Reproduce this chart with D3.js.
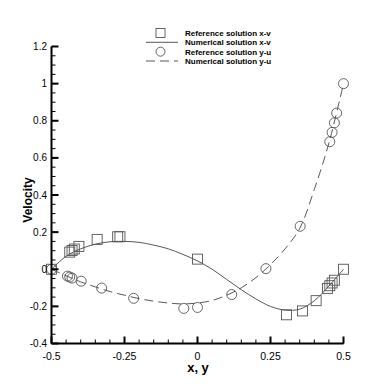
<!DOCTYPE html>
<html>
<head>
<meta charset="utf-8">
<script src="https://cdn.jsdelivr.net/npm/d3@7"></script>
<style>
  body { margin: 0; background: #fff; }
  text { font-family: "Liberation Sans", Arial, sans-serif; }
</style>
</head>
<body>
<script>
// reference data (x-v along horizontal line, y-u along vertical line)
var refX = [0.5, 0.4688, 0.4609, 0.4531, 0.4453, 0.4063, 0.3594, 0.3047, 0, -0.2656, -0.2734, -0.3437, -0.4062, -0.4219, -0.4297, -0.4375, -0.5];
var refV = [0, -0.05906, -0.07391, -0.08864, -0.10313, -0.16914, -0.22445, -0.24533, 0.05454, 0.17527, 0.17507, 0.16077, 0.12317, 0.10890, 0.10091, 0.09233, 0];
var refY = [0.5, 0.4766, 0.4688, 0.4609, 0.4531, 0.3516, 0.2344, 0.1172, 0, -0.0469, -0.2187, -0.3281, -0.3984, -0.4297, -0.4375, -0.4453, -0.5];
var refU = [1, 0.84123, 0.78871, 0.73722, 0.68717, 0.23151, 0.00332, -0.13641, -0.20581, -0.21090, -0.15662, -0.10150, -0.06434, -0.04775, -0.04192, -0.03717, 0];

// numerical solution
var numPos = [-0.5, -0.45, -0.4, -0.35, -0.3, -0.25, -0.2, -0.15, -0.1, -0.05, 0, 0.05, 0.1, 0.15, 0.2, 0.25, 0.3, 0.35, 0.4, 0.45, 0.5];
var numV = [0, 0.07, 0.11, 0.135, 0.148, 0.15, 0.145, 0.13, 0.11, 0.08, 0.045, 0.0, -0.055, -0.11, -0.16, -0.2, -0.22, -0.215, -0.17, -0.09, 0];
var numU = [0, -0.035, -0.068, -0.095, -0.12, -0.14, -0.158, -0.172, -0.182, -0.187, -0.182, -0.168, -0.14, -0.1, -0.045, 0.025, 0.11, 0.22, 0.43, 0.68, 1.0];

var xTicks = [-0.5, -0.25, 0, 0.25, 0.5];
var xTickLabels = ["-0.5", "-0.25", "0", "0.25", "0.5"];
var yTicks = [-0.4, -0.2, 0, 0.2, 0.4, 0.6, 0.8, 1, 1.2];
var yTickLabels = ["-0.4", "-0.2", "0", "0.2", "0.4", "0.6", "0.8", "1", "1.2"];

var legendLabels = ["Reference solution x-v", "Numerical solution x-v", "Reference solution y-u", "Numerical solution y-u"];

var svg = d3.select("body").append("svg")
  .attr("width", 390)
  .attr("height", 390);

var x = d3.scaleLinear().domain([-0.5, 0.5]).range([51.5, 343.5]);
var y = d3.scaleLinear().domain([-0.4, 1.2]).range([343.5, 46.5]);

var lineColor = "#444";

// curves
var line = d3.line()
  .x(function(d) { return x(d[0]); })
  .y(function(d) { return y(d[1]); })
  .curve(d3.curveCatmullRom);

svg.append("path")
  .datum(d3.zip(numPos, numV))
  .attr("d", line)
  .attr("fill", "none")
  .attr("stroke", lineColor)
  .attr("stroke-width", 0.9);

svg.append("path")
  .datum(d3.zip(numPos, numU))
  .attr("d", line)
  .attr("fill", "none")
  .attr("stroke", lineColor)
  .attr("stroke-width", 0.9)
  .attr("stroke-dasharray", "9,5");

// markers
svg.selectAll(".sq")
  .data(d3.zip(refX, refV))
  .enter().append("rect")
  .attr("class", "sq")
  .attr("x", function(d) { return x(d[0]) - 5; })
  .attr("y", function(d) { return y(d[1]) - 5; })
  .attr("width", 10)
  .attr("height", 10)
  .attr("fill", "none")
  .attr("stroke", "#555")
  .attr("stroke-width", 0.9);

svg.selectAll(".ci")
  .data(d3.zip(refY, refU))
  .enter().append("circle")
  .attr("class", "ci")
  .attr("cx", function(d) { return x(d[0]); })
  .attr("cy", function(d) { return y(d[1]); })
  .attr("r", 5)
  .attr("fill", "none")
  .attr("stroke", "#555")
  .attr("stroke-width", 0.9);

// axes
var xAxis = svg.append("g").attr("transform", "translate(0,343.5)");
xAxis.append("line")
  .attr("x1", 51.5).attr("x2", 343.5)
  .attr("stroke", "#000").attr("stroke-width", 2);
xAxis.selectAll(".minor")
  .data(d3.range(-0.5, 0.5001, 0.05))
  .enter().append("line")
  .attr("x1", function(d) { return x(d); })
  .attr("x2", function(d) { return x(d); })
  .attr("y1", 0).attr("y2", -4)
  .attr("stroke", "#000").attr("stroke-width", 1);
xAxis.selectAll(".major")
  .data(xTicks)
  .enter().append("line")
  .attr("x1", function(d) { return x(d); })
  .attr("x2", function(d) { return x(d); })
  .attr("y1", 0).attr("y2", -7)
  .attr("stroke", "#000").attr("stroke-width", 2);
xAxis.selectAll(".lab")
  .data(xTicks)
  .enter().append("text")
  .attr("x", function(d) { return x(d); })
  .attr("y", 16)
  .attr("text-anchor", "middle")
  .style("font-size", "10.5px")
  .text(function(d, i) { return xTickLabels[i]; });

var yAxis = svg.append("g").attr("transform", "translate(51.5,0)");
yAxis.append("line")
  .attr("y1", 46.5).attr("y2", 343.5)
  .attr("stroke", "#000").attr("stroke-width", 2);
yAxis.selectAll(".minor")
  .data(d3.range(-0.4, 1.2001, 0.05))
  .enter().append("line")
  .attr("y1", function(d) { return y(d); })
  .attr("y2", function(d) { return y(d); })
  .attr("x1", 0).attr("x2", 4)
  .attr("stroke", "#000").attr("stroke-width", 1);
yAxis.selectAll(".major")
  .data(yTicks)
  .enter().append("line")
  .attr("y1", function(d) { return y(d); })
  .attr("y2", function(d) { return y(d); })
  .attr("x1", 0).attr("x2", 7)
  .attr("stroke", "#000").attr("stroke-width", 2);
yAxis.selectAll(".lab")
  .data(yTicks)
  .enter().append("text")
  .attr("x", -4.5)
  .attr("y", function(d) { return y(d); })
  .attr("dy", "0.35em")
  .attr("text-anchor", "end")
  .style("font-size", "10px")
  .text(function(d, i) { return yTickLabels[i]; });

// axis titles
svg.append("text")
  .attr("x", 198).attr("y", 372)
  .attr("text-anchor", "middle")
  .style("font-size", "13px")
  .style("font-weight", "bold")
  .text("x, y");

svg.append("text")
  .attr("transform", "translate(31.5,200) rotate(-90)")
  .attr("text-anchor", "middle")
  .style("font-size", "12px")
  .style("font-weight", "bold")
  .text("Velocity");

// legend
var legY = [33, 42.3, 51.7, 61];
var leg = svg.append("g");
leg.append("rect")
  .attr("x", 156).attr("y", legY[0] - 4.5)
  .attr("width", 9).attr("height", 9)
  .attr("fill", "none").attr("stroke", "#555").attr("stroke-width", 0.9);
leg.append("line")
  .attr("x1", 146).attr("x2", 178)
  .attr("y1", legY[1]).attr("y2", legY[1])
  .attr("stroke", lineColor).attr("stroke-width", 0.9);
leg.append("circle")
  .attr("cx", 160.5).attr("cy", legY[2]).attr("r", 4.5)
  .attr("fill", "none").attr("stroke", "#555").attr("stroke-width", 0.9);
leg.append("line")
  .attr("x1", 146).attr("x2", 178)
  .attr("y1", legY[3]).attr("y2", legY[3])
  .attr("stroke", lineColor).attr("stroke-width", 0.9)
  .attr("stroke-dasharray", "9,5");
leg.selectAll(".lt")
  .data(legendLabels)
  .enter().append("text")
  .attr("x", 185)
  .attr("y", function(d, i) { return legY[i]; })
  .attr("dy", "0.35em")
  .style("font-size", "8px")
  .style("font-weight", "bold")
  .text(function(d) { return d; });
</script>
</body>
</html>
